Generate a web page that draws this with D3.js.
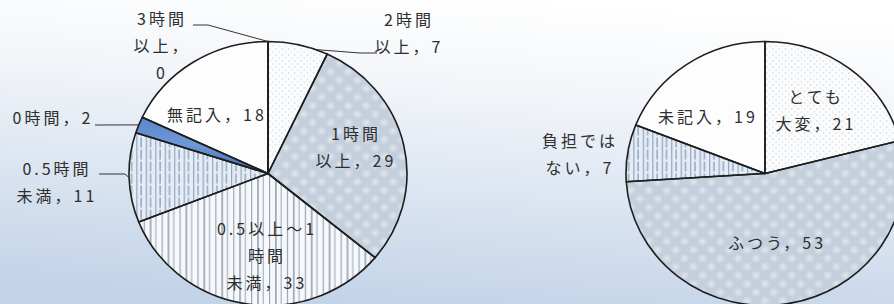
<!DOCTYPE html>
<html>
<head>
<meta charset="utf-8">
<script src="https://cdn.jsdelivr.net/npm/d3@7"></script>
<style>
  html, body { margin: 0; padding: 0; overflow: hidden; background: #fff; }
  svg text { font-family: "Noto Sans CJK JP", "Noto Sans", sans-serif; }
</style>
</head>
<body>
<div id="chart"></div>
<script>
// ---------------------------------------------------------------------------
// Data
// ---------------------------------------------------------------------------

const timeLabels = ["3時間以上", "2時間以上", "1時間以上", "0.5以上～1時間未満", "0.5時間未満", "0時間", "無記入"];
const timeValues = [0, 7, 29, 33, 11, 2, 18];

const burdenLabels = ["とても大変", "ふつう", "負担ではない", "未記入"];
const burdenValues = [21, 53, 7, 19];

// ---------------------------------------------------------------------------
// Layout
// ---------------------------------------------------------------------------

const width = 894, height = 304;
const rx = 139, ry = 132;

const svg = d3.select("#chart").append("svg")
    .attr("width", width)
    .attr("height", height);

const defs = svg.append("defs");

// background gradient
const bg = defs.append("linearGradient").attr("id", "bg")
    .attr("x1", 0.6).attr("y1", 0).attr("x2", 0.4).attr("y2", 1);
bg.append("stop").attr("offset", "0").attr("stop-color", "#ffffff");
bg.append("stop").attr("offset", "0.3").attr("stop-color", "#f2f5f9");
bg.append("stop").attr("offset", "1").attr("stop-color", "#c3d3e8");

svg.append("rect").attr("width", width).attr("height", height).attr("fill", "url(#bg)");

// --- patterns ---------------------------------------------------------------

// sparse dots
let p = defs.append("pattern").attr("id", "dots")
    .attr("patternUnits", "userSpaceOnUse").attr("width", 6).attr("height", 6);
p.append("rect").attr("width", 6).attr("height", 6).attr("fill", "#fbfcfd");
p.append("rect").attr("x", 1).attr("y", 1).attr("width", 1).attr("height", 1).attr("fill", "#b4b8be");
p.append("rect").attr("x", 4).attr("y", 4).attr("width", 1).attr("height", 1).attr("fill", "#c4c8cd");

// fine checker (diamond mesh)
p = defs.append("pattern").attr("id", "checker")
    .attr("patternUnits", "userSpaceOnUse").attr("width", 2).attr("height", 2);
p.append("rect").attr("width", 1).attr("height", 1).attr("fill", "#8f99a6");
p.append("rect").attr("x", 1).attr("y", 1).attr("width", 1).attr("height", 1).attr("fill", "#8f99a6");

// soft light diamonds on top of the mesh
const glow = defs.append("radialGradient").attr("id", "glow");
glow.append("stop").attr("offset", "0").attr("stop-color", "#ffffff").attr("stop-opacity", 0.9);
glow.append("stop").attr("offset", "1").attr("stop-color", "#ffffff").attr("stop-opacity", 0);
p = defs.append("pattern").attr("id", "diamonds")
    .attr("patternUnits", "userSpaceOnUse").attr("width", 12).attr("height", 12)
    .attr("patternTransform", "rotate(45)");
p.append("rect").attr("x", 1).attr("y", 1).attr("width", 10).attr("height", 10).attr("fill", "url(#glow)");

// vertical lines on white
p = defs.append("pattern").attr("id", "vlinesWhite")
    .attr("patternUnits", "userSpaceOnUse").attr("width", 17).attr("height", 14);
p.append("rect").attr("width", 17).attr("height", 14).attr("fill", "#f5f8fc");
p.append("rect").attr("x", 1).attr("width", 1).attr("height", 14).attr("fill", "#939daa");
p.append("rect").attr("x", 7).attr("width", 1).attr("height", 14).attr("fill", "#6b7480");
p.append("rect").attr("x", 12).attr("width", 1).attr("height", 14).attr("fill", "#a0a9b5");

// vertical lines on light blue
p = defs.append("pattern").attr("id", "vlinesBlue")
    .attr("patternUnits", "userSpaceOnUse").attr("width", 9).attr("height", 12);
p.append("rect").attr("width", 9).attr("height", 12).attr("fill", "#e3ecf7");
p.append("rect").attr("x", 1).attr("width", 1).attr("height", 12).attr("fill", "#8d9db4");
p.append("rect").attr("x", 5).attr("width", 1).attr("height", 10).attr("fill", "#7b8ca6");

// solid blue with a little shading
const blue = defs.append("linearGradient").attr("id", "blueFill")
    .attr("x1", 0).attr("y1", 0).attr("x2", 0).attr("y2", 1);
blue.append("stop").attr("offset", "0").attr("stop-color", "#5a86cc");
blue.append("stop").attr("offset", "0.5").attr("stop-color", "#6f98d6");
blue.append("stop").attr("offset", "1").attr("stop-color", "#3b67b3");

// fills per style: list of layers
const styles = {
    white:    [{ fill: "#fdfdfe" }],
    dots:     [{ fill: "url(#dots)" }],
    mesh:     [{ fill: "#dbe6f3" }, { fill: "url(#checker)", opacity: 0.6 }, { fill: "url(#diamonds)", opacity: 0.55 }],
    vwhite:   [{ fill: "url(#vlinesWhite)" }],
    vblue:    [{ fill: "url(#vlinesBlue)" }],
    solid:    [{ fill: "url(#blueFill)" }]
};

const timeStyles = ["white", "dots", "mesh", "vwhite", "vblue", "solid", "white"];
const burdenStyles = ["dots", "mesh", "vblue", "white"];

// ---------------------------------------------------------------------------
// Pie drawing
// ---------------------------------------------------------------------------

const pie = d3.pie().value(d => d.value).sort(null);
const arc = d3.arc().innerRadius(0).outerRadius(ry);

function arcPoint(cx, cy, a) {
    return [cx + rx * Math.sin(a), cy - ry * Math.cos(a)];
}

function drawPie(cx, cy, labels, values, styleKeys) {
    const data = labels.map((l, i) => ({ label: l, value: values[i], style: styleKeys[i] }));
    const arcs = pie(data);

    const g = svg.append("g")
        .attr("transform", `translate(${cx},${cy}) scale(${rx / ry},1)`);

    arcs.forEach(d => {
        styles[d.data.style].forEach(layer => {
            g.append("path")
                .attr("d", arc(d))
                .attr("fill", layer.fill)
                .attr("opacity", layer.opacity ?? 1);
        });
    });

    g.selectAll("path.edge")
        .data(arcs)
        .join("path")
        .attr("class", "edge")
        .attr("d", arc)
        .attr("fill", "none")
        .attr("stroke", "#1e1e1e")
        .attr("stroke-width", 1.6)
        .attr("stroke-linejoin", "round")
        .attr("vector-effect", "non-scaling-stroke");

    return arcs;
}

const cy = 173.5;
const leftArcs = drawPie(268, cy, timeLabels, timeValues, timeStyles);
const rightArcs = drawPie(765, cy, burdenLabels, burdenValues, burdenStyles);

// ---------------------------------------------------------------------------
// Labels
// ---------------------------------------------------------------------------

function addLabel(x, y, lines) {
    const t = svg.append("text")
        .attr("text-anchor", "middle")
        .attr("font-size", 16)
        .attr("letter-spacing", 3)
        .attr("fill", "#2e2e2e");
    lines.forEach((line, i) => {
        t.append("tspan").attr("x", x).attr("y", y + i * 27).text(line);
    });
}

const line = d3.line();
function addLeader(points) {
    svg.append("path")
        .attr("d", line(points))
        .attr("fill", "none")
        .attr("stroke", "#333")
        .attr("stroke-width", 1);
}

const v = timeValues, b = burdenValues;

// left pie
addLabel(162, 25, ["3時間", "以上，", String(v[0])]);
addLeader([[193, 25], [208, 25], arcPoint(268, cy, leftArcs[0].startAngle)]);

addLabel(409, 26, ["2時間", `以上，${v[1]}`]);
{
    const d = leftArcs[1];
    addLeader([arcPoint(268, cy, d.startAngle + 0.8 * (d.endAngle - d.startAngle)), [360, 53], [377, 53]]);
}

addLabel(356, 140, ["1時間", `以上，${v[2]}`]);
addLabel(267, 235, ["0.5以上～1", "時間", `未満，${v[3]}`]);

addLabel(57, 175, ["0.5時間", `未満，${v[4]}`]);
{
    const d = leftArcs[4];
    addLeader([[99, 174], [125, 174], arcPoint(268, cy, (d.startAngle + d.endAngle) / 2)]);
}

addLabel(53, 124, [`0時間，${v[5]}`]);
{
    const d = leftArcs[5];
    const pt = arcPoint(268, cy, (d.startAngle + d.endAngle) / 2);
    addLeader([[95, 125], pt]);
}

addLabel(217, 121, [`無記入，${v[6]}`]);

// right pie
addLabel(816, 103, ["とても", `大変，${b[0]}`]);
addLabel(777, 249, [`ふつう，${b[1]}`]);
addLabel(580, 147, ["負担では", `ない，${b[2]}`]);
addLabel(708, 123, [`未記入，${b[3]}`]);
</script>
</body>
</html>
